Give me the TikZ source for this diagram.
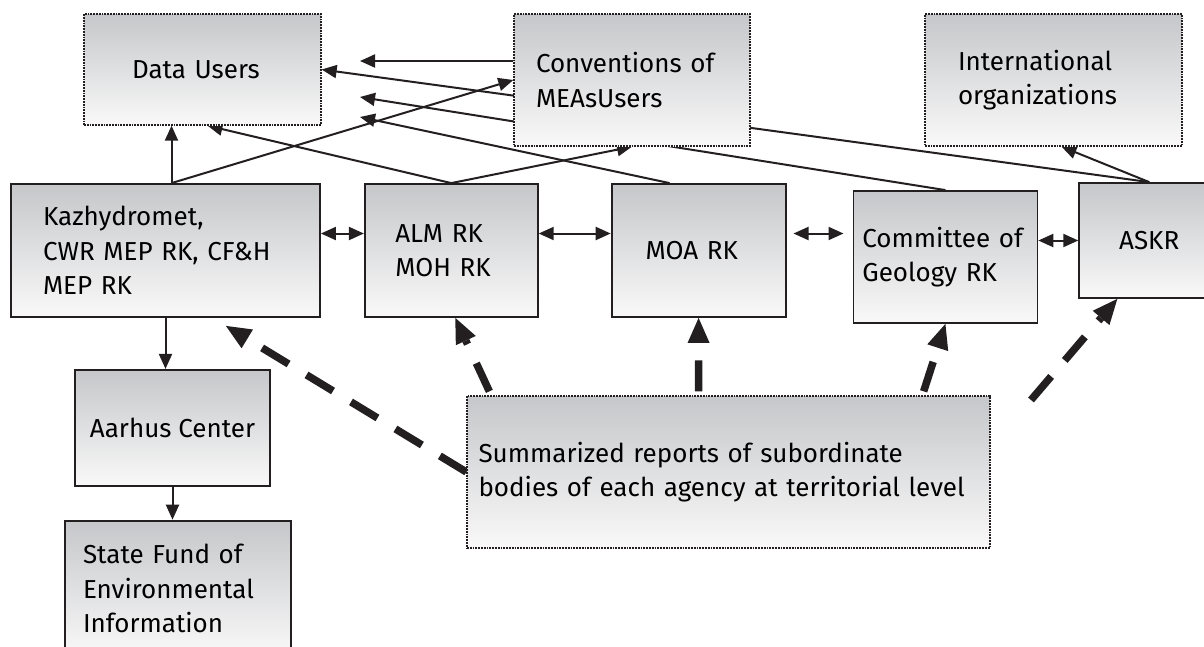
\documentclass[tikz,border=0pt]{standalone}
\usepackage{fontspec}
\setmainfont{Fira Sans}
\usetikzlibrary{arrows.meta, positioning, calc, backgrounds}
\definecolor{shadetop}{RGB}{198,199,202}
\definecolor{shadebot}{RGB}{249,249,249}
\definecolor{inkline}{RGB}{35,31,32}

\begin{document}
\begin{tikzpicture}[x=1pt, y=-1pt, >={Triangle[length=15pt,width=13pt]}, font=\fontsize{26}{34.5}\selectfont]
  \tikzstyle{solidbox}=[draw=inkline, line width=1.8pt, top color=shadetop, bottom color=shadebot, align=left, inner sep=0pt]
  \tikzstyle{dotbox}=[solidbox, densely dotted, line width=1.3pt]
  \tikzstyle{link}=[->, line width=2pt, draw=inkline]
  \tikzstyle{twoway}=[<->, line width=2pt, draw=inkline]
  \tikzstyle{report}=[-{Triangle[length=25pt,width=22pt,line width=0pt]}, line width=7.5pt, dash pattern=on 31pt off 21pt, draw=inkline]

  \useasboundingbox (0,0) rectangle (1204,646);

  % top row: who receives the data
  \node[dotbox, minimum width=237pt, minimum height=111pt, text width=141pt] (users) at (202.5,69.5) {Data Users};
  \node[dotbox, minimum width=236pt, minimum height=132pt, text width=192pt] (conv) at (632,80) {Conventions of\\MEAsUsers};
  \node[dotbox, minimum width=257pt, minimum height=132pt, text width=191pt] (intl) at (1053.5,80) {International\\organizations};

  % agencies (left -> right)
  \node[solidbox, minimum width=309pt, minimum height=133pt, text width=245pt] (kaz) at (165.5,250.5) {Kazhydromet,\\CWR MEP RK, CF\&H\\MEP RK};
  \node[solidbox, minimum width=173pt, minimum height=133pt, text width=112pt, right=43pt of kaz] (alm) {ALM RK\\MOH RK};
  \node[solidbox, minimum width=174pt, minimum height=133pt, text width=106pt, right=72pt of alm] (moa) {MOA RK};
  \node[solidbox, minimum width=184pt, minimum height=132pt, text width=166pt, right=66pt of moa, yshift=-6.5pt] (geol) {Committee of\\Geology RK};
  \node[solidbox, minimum width=140pt, minimum height=115pt, right=40pt of geol, yshift=16.5pt] (askr) {ASKR};

  % left column
  \node[solidbox, minimum width=195pt, minimum height=116pt, below=51pt of kaz, xshift=7pt] (aarhus) {Aarhus Center};
  \node[solidbox, minimum width=226pt, minimum height=136pt, text width=190pt, below=33pt of aarhus, xshift=5.5pt] (fund) {State Fund of\\Environmental\\Information};

  \node[dotbox, minimum width=523pt, minimum height=152pt, text width=500pt] (summ) at (728.5,472) {Summarized reports of subordinate\\bodies of each agency at territorial level};

  % loose ends
  \coordinate (moaend) at (360,117);
  \coordinate (convend) at (360,61);
  \coordinate (geolend) at (360,97);
  \coordinate (askrsrc) at (1031,400);
  \coordinate (kazhit) at ($(kaz.south east)+(-95,8)$);

  \begin{pgfonlayer}{background}
    \draw[link] ([xshift=6pt]kaz.north) -- ([xshift=6pt]kaz.north |- users.south);
    \draw[link] ([xshift=6pt]kaz.north) -- (conv.west);
    \draw[link] (alm.north) -- ([xshift=5pt]users.south);
    \draw[link] (alm.north) -- (conv.south);
    \draw[link] ([xshift=-29pt]moa.north) -- (moaend);
    \draw[link] ([yshift=19pt]conv.west) -- (convend);
    \draw[link] (geol.north) -- (geolend);
    \draw[link] (askr.north) -- (users.east);
    \draw[link] (askr.north) -- ([xshift=8pt]intl.south);

    \draw[twoway] ([yshift=17pt]kaz.east) -- ([yshift=17pt]alm.west);
    \draw[twoway] ([yshift=17pt]alm.east) -- ([yshift=17pt]moa.west);
    \draw[twoway, shorten <=7pt, shorten >=9pt] ([yshift=17pt]moa.east) -- ([yshift=17pt]moa.east -| geol.west);
    \draw[twoway] (askr.west -| geol.east) -- (askr.west);

    \draw[link] (kaz.south) -- (kaz.south |- aarhus.north);
    \draw[link] (aarhus.south) -- (aarhus.south |- fund.north);

    % territorial reports
    \draw[report] (summ.west) -- (kazhit);
    \draw[report] ([xshift=23pt, yshift=4pt]summ.north west) -- ([xshift=4pt]alm.south);
    \draw[report] ([xshift=-30pt, yshift=4pt]summ.north) -- (moa.south);
    \draw[report] ([xshift=-67pt, yshift=4pt]summ.north east) -- (geol.south);
    \draw[report] (askrsrc) -- ([xshift=39pt]askr.south west);
  \end{pgfonlayer}
\end{tikzpicture}
\end{document}
